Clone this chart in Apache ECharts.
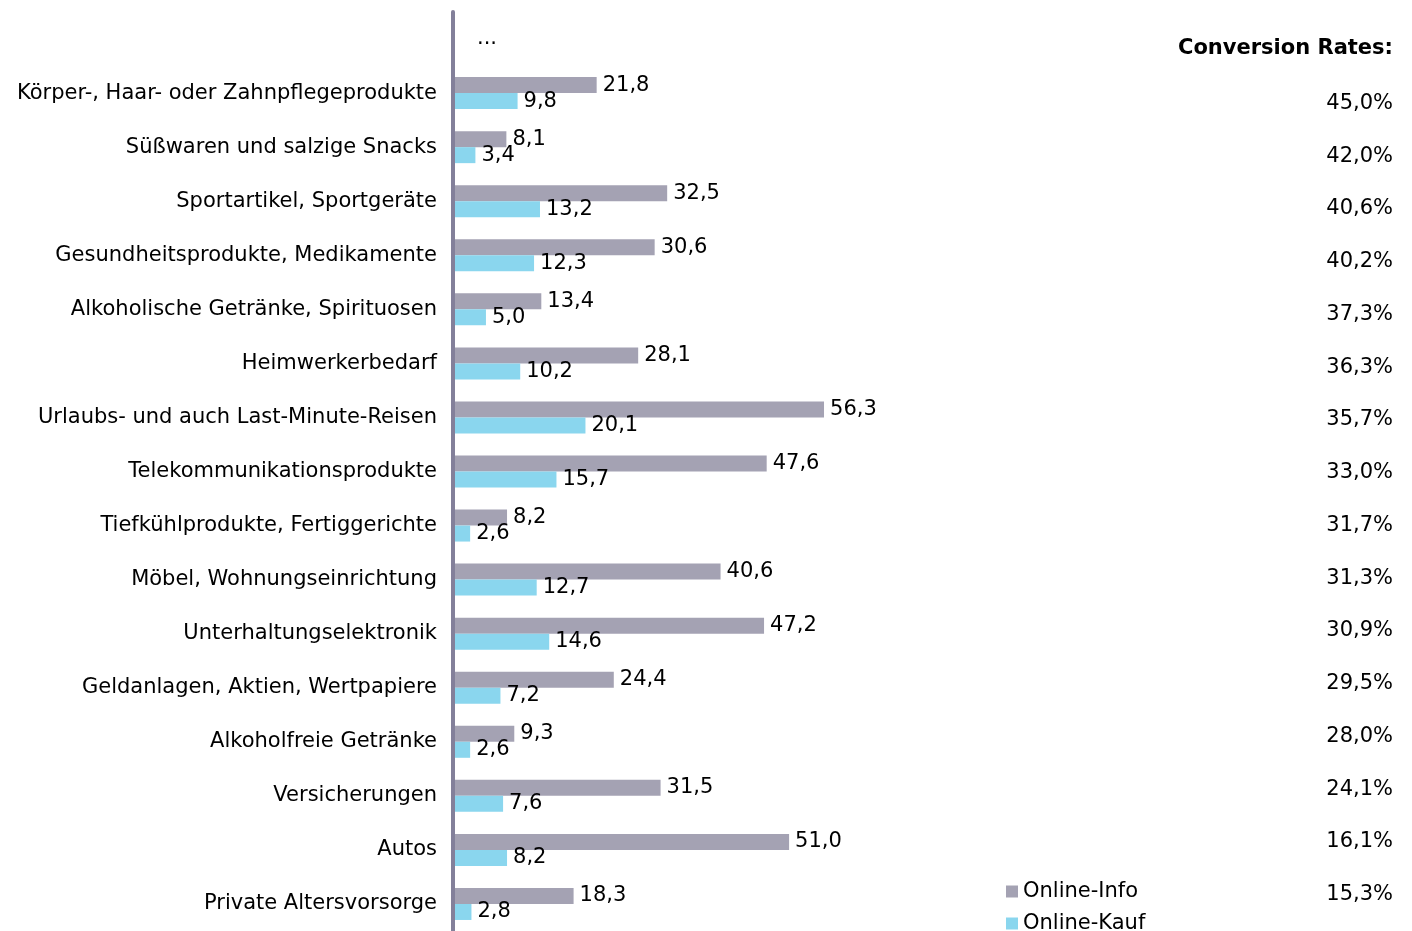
<!DOCTYPE html>
<html><head><meta charset="utf-8">
<script src="https://cdn.jsdelivr.net/npm/echarts@6/dist/echarts.min.js"></script>
<style>html,body{margin:0;padding:0;background:#fff}#c{width:1412px;height:931px}</style>
</head><body><div id="c"></div>
<script>
var categories = ['', 'Körper-, Haar- oder Zahnpflegeprodukte', 'Süßwaren und salzige Snacks', 'Sportartikel, Sportgeräte', 'Gesundheitsprodukte, Medikamente', 'Alkoholische Getränke, Spirituosen', 'Heimwerkerbedarf', 'Urlaubs- und auch Last-Minute-Reisen', 'Telekommunikationsprodukte', 'Tiefkühlprodukte, Fertiggerichte', 'Möbel, Wohnungseinrichtung', 'Unterhaltungselektronik', 'Geldanlagen, Aktien, Wertpapiere', 'Alkoholfreie Getränke', 'Versicherungen', 'Autos', 'Private Altersvorsorge'];
var onlineInfo = [null, 21.8, 8.1, 32.5, 30.6, 13.4, 28.1, 56.3, 47.6, 8.2, 40.6, 47.2, 24.4, 9.3, 31.5, 51.0, 18.3];
var onlineKauf = [null, 9.8, 3.4, 13.2, 12.3, 5.0, 10.2, 20.1, 15.7, 2.6, 12.7, 14.6, 7.2, 2.6, 7.6, 8.2, 2.8];
var conversionRates = ['45,0%', '42,0%', '40,6%', '40,2%', '37,3%', '36,3%', '35,7%', '33,0%', '31,7%', '31,3%', '30,9%', '29,5%', '28,0%', '24,1%', '16,1%', '15,3%'];
var seriesNames = ['Online-Info', 'Online-Kauf'];

var FONT = 'DejaVu Sans';
var FS = 21;
var fmt = function (p) { return p.value == null ? '' : p.value.toFixed(1).replace('.', ','); };
var legendText = { fontFamily: FONT, fontSize: FS, color: '#000' };
var chart = echarts.init(document.getElementById('c'));
chart.setOption({
  animation: false,
  textStyle: { fontFamily: FONT },
  title: {
    text: 'Conversion Rates:', right: 19, top: 38, padding: 0,
    textStyle: { fontFamily: FONT, fontWeight: 'bold', fontSize: FS, color: '#000' }
  },
  graphic: [{ type: 'text', left: 477, top: 28, style: { text: '...', font: FS + 'px "DejaVu Sans"', fill: '#000' } }],
  legend: [
    { left: 1001, top: 876, itemWidth: 12, itemHeight: 12, itemTextGap: 5, icon: 'rect', data: [seriesNames[0]], textStyle: legendText },
    { left: 1001, top: 908, itemWidth: 12, itemHeight: 12, itemTextGap: 5, icon: 'rect', data: [seriesNames[1]], textStyle: legendText }
  ],
  grid: [
    { left: 453, top: 12, width: 659, height: 920 },
    { left: 1393, top: 77, width: 1, height: 844 }
  ],
  xAxis: [
    { type: 'value', gridIndex: 0, min: 0, max: 100, show: false },
    { type: 'value', gridIndex: 1, show: false }
  ],
  yAxis: [
    {
      type: 'category', gridIndex: 0, data: categories, inverse: true, z: 5,
      axisLine: { show: true, lineStyle: { color: '#83809a', width: 4, cap: 'round' } },
      axisTick: { show: false },
      axisLabel: { margin: 16, fontFamily: FONT, fontSize: FS, color: '#000', padding: [2, 0, 0, 0] }
    },
    {
      type: 'category', gridIndex: 1, data: conversionRates, inverse: true,
      axisLine: { show: false }, axisTick: { show: false },
      axisLabel: { margin: 0, fontFamily: FONT, fontSize: FS, color: '#000' }
    }
  ],
  series: [
    {
      name: seriesNames[0], type: 'bar', data: onlineInfo, barWidth: 16, barGap: '0%',
      itemStyle: { color: '#a4a2b3' },
      label: { show: true, position: 'right', distance: 6, formatter: fmt, fontFamily: FONT, fontSize: FS, color: '#000' }
    },
    {
      name: seriesNames[1], type: 'bar', data: onlineKauf, barWidth: 16, barGap: '0%',
      itemStyle: { color: '#8ad6ee' },
      label: { show: true, position: 'right', distance: 6, formatter: fmt, fontFamily: FONT, fontSize: FS, color: '#000' }
    }
  ]
});
</script></body></html>
